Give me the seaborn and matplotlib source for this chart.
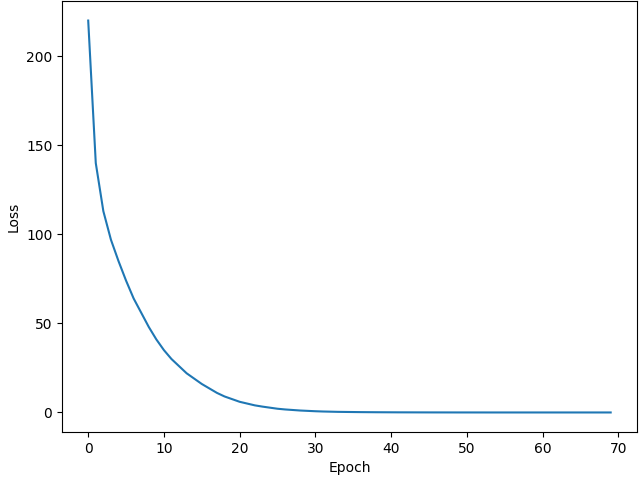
import matplotlib
matplotlib.use("Agg")
from matplotlib import pyplot as plt
import seaborn as sns

# loss per epoch
loss = [220, 140, 113, 97, 85, 74, 64, 56, 48, 41,
        35, 30, 26, 22, 19, 16, 13.5, 11, 9, 7.5,
        6, 5, 4, 3.3, 2.7, 2.1, 1.7, 1.4, 1.1, 0.9,
        0.7, 0.55, 0.45, 0.35, 0.3, 0.25, 0.2, 0.17, 0.14, 0.12,
        0.1, 0.08, 0.07, 0.06, 0.05, 0.04, 0.035, 0.03, 0.025, 0.02,
        0.02, 0.015, 0.015, 0.01, 0.01, 0.01, 0.01, 0.01, 0.01, 0.01,
        0.01, 0.01, 0.01, 0.01, 0.01, 0.01, 0.01, 0.01, 0.01, 0.01]
epochs = list(range(len(loss)))

fig, ax = plt.subplots(figsize=(6.4, 4.79), dpi=100)
sns.lineplot(x=epochs, y=loss, ax=ax, color="#1f77b4")
ax.set_xlabel("Epoch")
ax.set_ylabel("Loss")
ax.set_xticks(range(0, 71, 10))
fig.subplots_adjust(left=0.097, right=0.995, top=0.998, bottom=0.098)
fig.savefig("out.png")
